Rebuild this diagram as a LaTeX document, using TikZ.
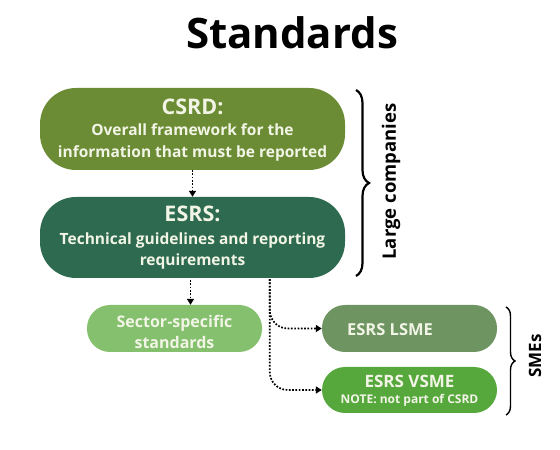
\documentclass[tikz,border=0pt]{standalone}
\usepackage{fontspec}
\setmainfont{Open Sans}
\usetikzlibrary{arrows.meta,decorations.pathreplacing,calc}
\definecolor{csrdc}{HTML}{6B8C35}
\definecolor{esrsc}{HTML}{2D6A4F}
\definecolor{sectc}{HTML}{84C06D}
\definecolor{lsmec}{HTML}{6E9462}
\definecolor{vsmec}{HTML}{56A83C}
\definecolor{txtc}{HTML}{F2F5E6}
\tikzset{
  x=1pt,y=1pt,
  pill/.style={fill=#1, draw=none, inner sep=0pt},
  lbl/.style={text=txtc, anchor=base, inner sep=0pt, font=\fontsize{#1}{#1}\selectfont\bfseries},
  dotarrow/.style={draw=black, line width=1.7pt, dash pattern=on 1.7pt off 1.6pt, -{Triangle[length=6pt,width=7pt]}},
  bracestyle/.style={draw=black, decorate, decoration={brace, amplitude=#1}},
}
\begin{document}
\begin{tikzpicture}
\useasboundingbox (0,0) rectangle (560,450);
\node[anchor=base, inner sep=0pt, font=\fontsize{42}{46}\selectfont\bfseries] (title) at (292,401.5) {Standards};

\node[pill=csrdc, rounded corners=36pt, minimum width=305pt, minimum height=82pt] (csrd) at (192.5,321) {};
\node[lbl=21.5] (csrd1) at (192.5,335.3) {CSRD:};
\node[lbl=15.5] (csrd2) at (192.5,314.4) {Overall framework for the};
\node[lbl=15.5] (csrd3) at (192.5,292.4) {information that must be reported};

\node[pill=esrsc, rounded corners=36pt, minimum width=305pt, minimum height=81pt] (esrs) at (192.5,212.5) {};
\node[lbl=21.5] (esrs1) at (192.5,228.3) {ESRS:};
\node[lbl=15.5] (esrs2) at (192.5,205.4) {Technical guidelines and reporting};
\node[lbl=15.5] (esrs3) at (192.5,184.4) {requirements};

\node[pill=sectc, rounded corners=23pt, minimum width=175pt, minimum height=47pt] (sector) at (174.5,121.5) {};
\node[lbl=16] (sector1) at (174.5,122.2) {Sector-specific};
\node[lbl=16] (sector2) at (174.5,101.2) {standards};

\node[pill=lsmec, rounded corners=23pt, minimum width=175pt, minimum height=47pt] (lsme) at (409.5,121.5) {};
\node[lbl=16.5] (lsme1) at (390,114) {ESRS LSME};

\node[pill=vsmec, rounded corners=23pt, minimum width=175pt, minimum height=46pt] (vsme) at (409.5,60) {};
\node[lbl=17] (vsme1) at (409.5,62) {ESRS VSME};
\node[lbl=12] (vsme2) at (409.5,46.7) {NOTE: not part of CSRD};

\draw[dotarrow] (csrd.south) -- (esrs.north);
\draw[dotarrow] ($(esrs.south)+(-2,-2)$) -- ($(esrs.south |- sector.north)+(-2,0)$);
\coordinate (split) at ($(esrs.south west)+(230,-1)$);
\draw[dotarrow, rounded corners=18pt] (split) |- (lsme.west);
\draw[dotarrow, rounded corners=18pt] (split) |- (vsme.west);

\draw[bracestyle=13pt, line width=2.2pt] (356,360) -- (356,174);
\node[rotate=90, font=\fontsize{18.5}{20}\selectfont\bfseries] (large) at (391,268.5) {Large companies};
\draw[bracestyle=9pt, line width=1.4pt] (506,143) -- (506,35);
\node[rotate=90, font=\fontsize{17}{19}\selectfont\bfseries] (smes) at (535,94) {SMEs};
\end{tikzpicture}
\end{document}
